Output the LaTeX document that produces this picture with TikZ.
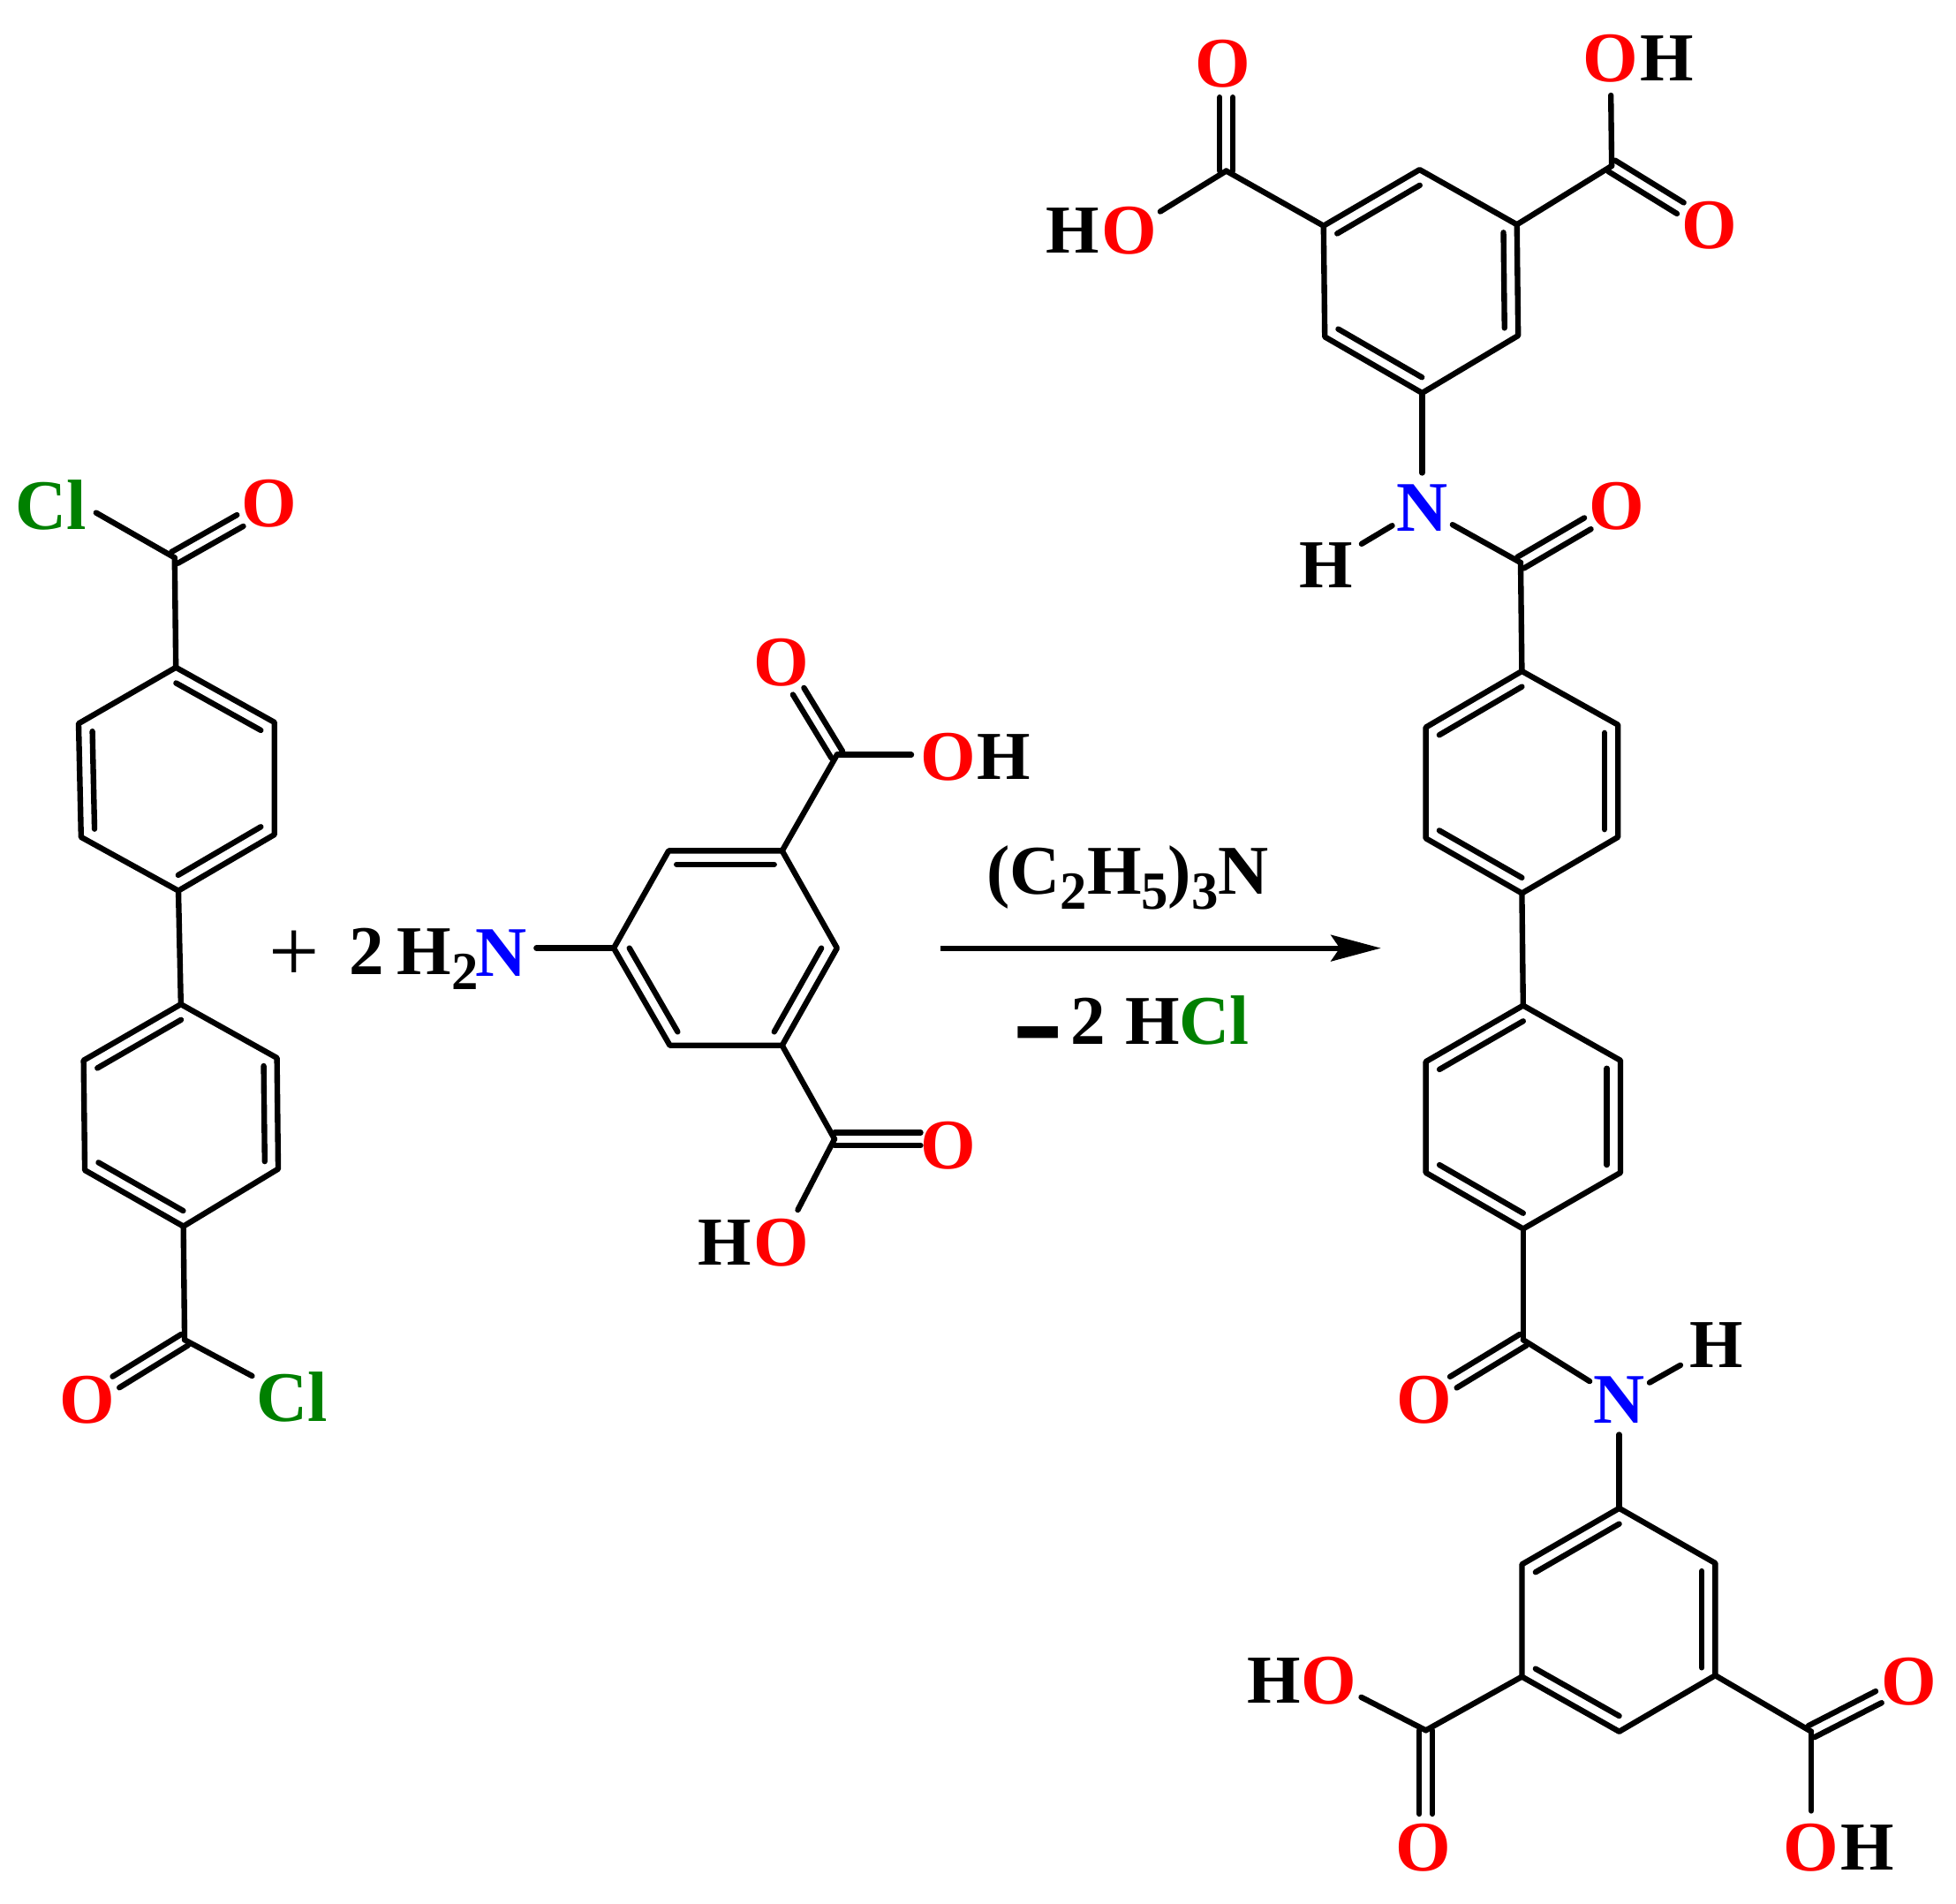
\documentclass[tikz,border=0pt]{standalone}
\usepackage{fontspec}
\setmainfont{Liberation Serif}
\usetikzlibrary{calc,arrows.meta}
\definecolor{clgreen}{HTML}{008000}
\definecolor{ored}{HTML}{FF0000}
\definecolor{nblue}{HTML}{0000FF}
\newcommand{\chemsub}[1]{\raisebox{-12pt}{\fontsize{43}{43}\selectfont #1}}
\newcommand{\hexring}[7]{%
  \coordinate (#1a) at #2; \coordinate (#1b) at #3; \coordinate (#1c) at #4;
  \coordinate (#1d) at #5; \coordinate (#1e) at #6; \coordinate (#1f) at #7;
  \coordinate (#1m) at ($(#1a)!.5!(#1d)$);
  \draw[bond] (#1a)--(#1b)--(#1c)--(#1d)--(#1e)--(#1f)--cycle;}
\newcommand{\innerb}[3]{\draw[bond] ($(#1m)!.86!(#1#2)$) -- ($(#1m)!.86!(#1#3)$);}
\newcommand{\dblb}[2]{%
  \coordinate (dbe) at ($(#2)!27pt!(#1)$);
  \draw[bond] ($(#1)!5.2pt!90:(dbe)$) -- ($(dbe)!5.2pt!-90:(#1)$);
  \draw[bond] ($(#1)!5.2pt!-90:(dbe)$) -- ($(dbe)!5.2pt!90:(#1)$);}
\tikzset{
  bond/.style={line width=4.5pt,line cap=round,line join=round,black},
  atom/.style={circle,inner sep=0pt,minimum size=52pt,font=\fontsize{57}{57}\selectfont\bfseries},
  oxy/.style={atom,text=ored},
  nit/.style={atom,text=nblue,minimum size=52pt},
  chl/.style={atom,text=clgreen,minimum size=72pt},
  hyd/.style={atom,text=black,minimum size=66pt,font=\fontsize{55}{55}\selectfont\bfseries},
  lbl/.style={inner sep=0pt,anchor=base,font=\fontsize{56}{56}\selectfont\bfseries},
  arrowline/.style={line width=4.4pt,-{Stealth[length=40pt,width=21pt,inset=7pt]}},
}
\begin{document}
\begin{tikzpicture}[x=1pt,y=-1pt]
\useasboundingbox (0,0) rectangle (1568,1525.6);
% ---- reactant 1
\node[chl] (cl1) at (41,405) {Cl};
\coordinate (cl1e) at (77,411);
\node[oxy] (o1) at (216,404) {O};
\coordinate (c1) at (140,447);
\hexring{a}{(141,535)}{(220,579)}{(220,669)}{(143,714)}{(65,671)}{(63,580)}
\innerb{a}{a}{b}\innerb{a}{c}{d}\innerb{a}{e}{f}
\hexring{b}{(145,805)}{(222,848)}{(223,937)}{(147,983)}{(68,938)}{(67,850)}
\innerb{b}{f}{a}\innerb{b}{b}{c}\innerb{b}{d}{e}
\draw[bond] (cl1e) -- (c1);
\dblb{c1}{o1}
\draw[bond] (c1) -- (aa);
\draw[bond] (ad) -- (ba);
\coordinate (c2) at (148,1074);
\node[oxy] (o2) at (70,1122) {O};
\node[chl] (cl2) at (234,1120) {Cl};
\draw[bond] (bd) -- (c2);
\dblb{c2}{o2}
\draw[bond] (c2) -- (cl2);
% ---- plus, amine
\node[lbl,font=\fontsize{72}{72}\selectfont] (plus) at (236,787) {+};
\node[lbl] (two) at (294,781) {2};
\node[lbl,anchor=base west] (h2) at (318,781) {H\chemsub{2}};
\node[atom,text=nblue] (n1) at (402,764) {N};
\hexring{c}{(536,682)}{(627,682)}{(671,760)}{(627,838)}{(537,838)}{(492,760)}
\innerb{c}{a}{b}\innerb{c}{c}{d}\innerb{c}{e}{f}
\draw[bond] (n1.east |- cf) -- (cf);
\coordinate (c3) at (671,605);
\coordinate (c4) at (669,913);
\node[oxy] (o3) at (626,531) {O};
\node[oxy] (o4) at (760,607) {O};
\node[hyd] (h4) at (805,607) {H};
\node[oxy] (o5) at (760,918) {O};
\coordinate (o5t) at (765,913);
\node[oxy] (o6) at (626,996) {O};
\node[hyd] (h6) at (581,996) {H};
\draw[bond] (cb) -- (c3);
\dblb{c3}{o3}
\draw[bond] (c3) -- (c3 -| o4.west);
\draw[bond] (cd) -- (c4);
\dblb{c4}{o5t}
\draw[bond] (c4) -- (o6);
% ---- arrow
\coordinate (ar1) at (754,760);
\coordinate (ar2) at (1107,760);
\draw[arrowline] (ar1) -- (ar2);
\node[lbl] (reag) at (904,717) {(C\chemsub{2}H\chemsub{5})\chemsub{3}N};
\node[lbl,anchor=base west] (minus) at (816,859) {\scalebox{1.12}[2.4]{–}};
\node[lbl,anchor=base west] (tw2) at (858,837) {2};
\node[lbl,anchor=base west] (hh) at (902,837) {H};
\node[lbl,anchor=base west,text=clgreen] (hcl) at (945,837) {Cl};
% ---- product top
\hexring{d}{(1138,136)}{(1216,180)}{(1217,269)}{(1140,315)}{(1062,270)}{(1061,181)}
\innerb{d}{f}{a}\innerb{d}{b}{c}\innerb{d}{d}{e}
\coordinate (c5) at (983,137);
\coordinate (c6) at (1292,133);
\node[oxy] (o7) at (980,51) {O};
\coordinate (o7t) at (983,51);
\node[oxy] (o8) at (905,185) {O};
\node[hyd] (h8) at (860,185) {H};
\node[oxy] (o9) at (1291,47) {O};
\node[hyd] (h9) at (1336,47) {H};
\node[oxy] (o10) at (1370,181) {O};
\draw[bond] (df) -- (c5);
\dblb{c5}{o7t}
\draw[bond] (c5) -- (o8);
\draw[bond] (db) -- (c6);
\draw[bond] (c6) -- (o9);
\dblb{c6}{o10}
\node[nit] (n2) at (1140,407) {N};
\node[hyd] (h10) at (1063,453) {H};
\node[oxy] (o11) at (1296,406) {O};
\coordinate (c7) at (1219,451);
\draw[bond] (dd) -- (n2);
\draw[bond] (n2) -- (h10);
\draw[bond] (n2) -- (c7);
\dblb{c7}{o11}
\hexring{e}{(1220,538)}{(1297,581)}{(1297,671)}{(1220,716)}{(1143,672)}{(1143,583)}
\innerb{e}{f}{a}\innerb{e}{b}{c}\innerb{e}{d}{e}
\draw[bond] (c7) -- (ea);
\hexring{f}{(1221,806)}{(1299,850)}{(1299,940)}{(1221,985)}{(1143,940)}{(1143,851)}
\innerb{f}{f}{a}\innerb{f}{b}{c}\innerb{f}{d}{e}
\draw[bond] (ed) -- (fa);
\coordinate (c8) at (1221,1074);
\node[oxy] (o12) at (1142,1122) {O};
\node[nit] (n3) at (1298,1122) {N};
\node[hyd] (h12) at (1376,1078) {H};
\draw[bond] (fd) -- (c8);
\dblb{c8}{o12}
\draw[bond] (c8) -- (n3);
\draw[bond] (n3) -- (h12);
\hexring{g}{(1298,1209)}{(1375,1253)}{(1375,1343)}{(1298,1388)}{(1220,1344)}{(1220,1254)}
\innerb{g}{f}{a}\innerb{g}{b}{c}\innerb{g}{d}{e}
\draw[bond] (n3) -- (ga);
\coordinate (c9) at (1143,1387);
\coordinate (c10) at (1452,1388);
\node[hyd] (h13) at (1021,1347) {H};
\node[oxy] (o13) at (1065,1347) {O};
\node[oxy] (o14) at (1141,1481) {O};
\coordinate (o14t) at (1143,1481);
\node[oxy] (o15) at (1530,1348) {O};
\node[oxy] (o16) at (1452,1481) {O};
\node[hyd] (h16) at (1497,1481) {H};
\draw[bond] (ge) -- (c9);
\draw[bond] (c9) -- (o13);
\dblb{c9}{o14t}
\draw[bond] (gc) -- (c10);
\dblb{c10}{o15}
\draw[bond] (c10) -- (o16);
\end{tikzpicture}
\end{document}
